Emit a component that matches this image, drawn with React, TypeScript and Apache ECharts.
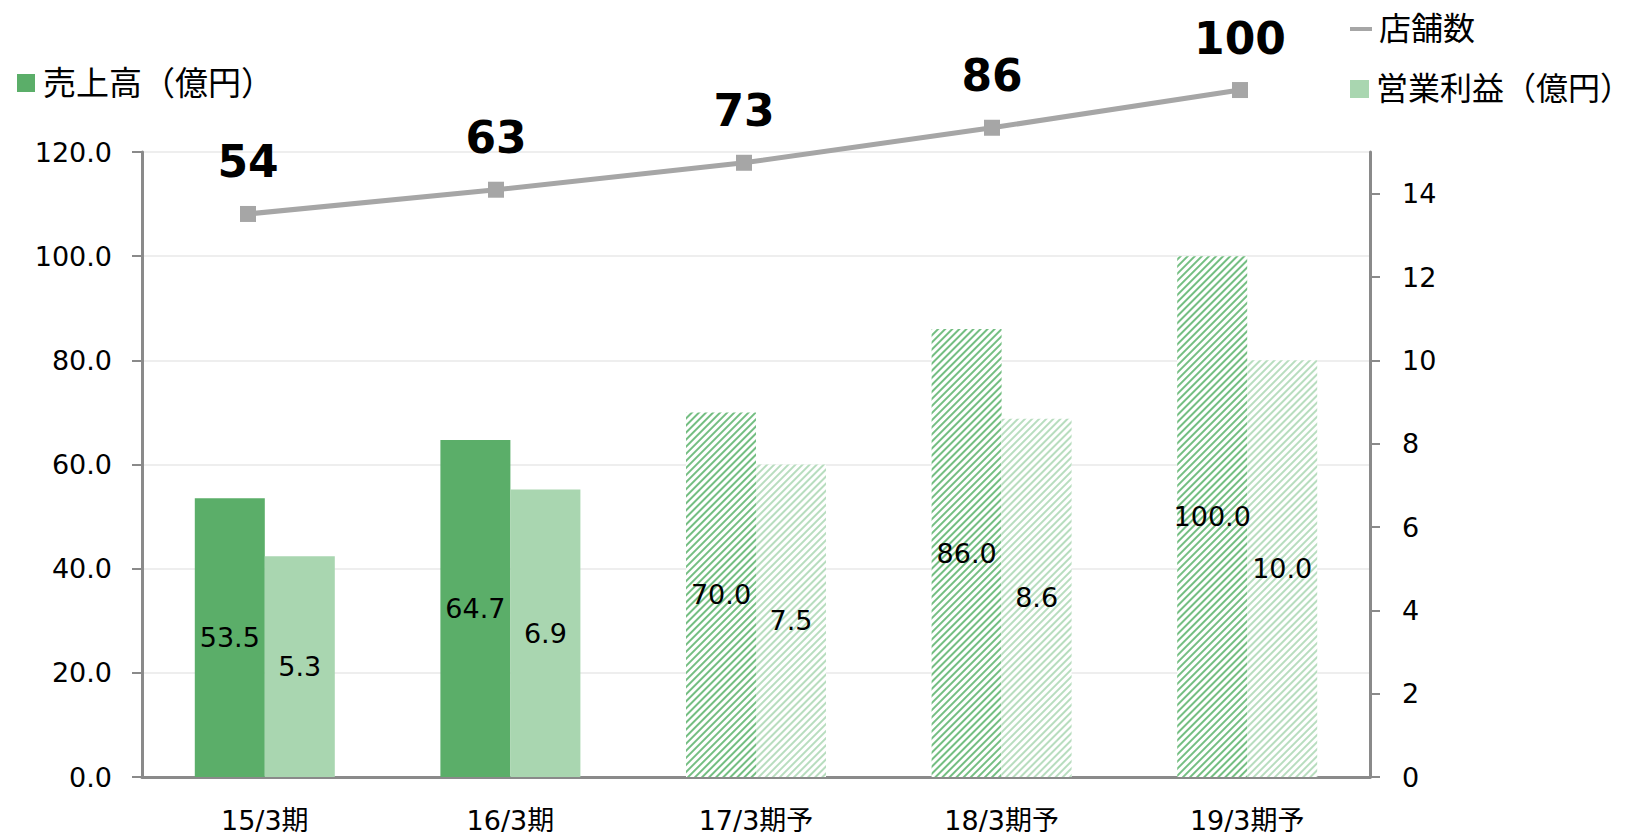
import React, { useEffect, useRef } from "react";
import * as echarts from "echarts";

const categories = ["15/3期", "16/3期", "17/3期予", "18/3期予", "19/3期予"];
const sales = [53.5, 64.7, 70.0, 86.0, 100.0];
const profit = [5.3, 6.9, 7.5, 8.6, 10.0];
const stores = [54, 63, 73, 86, 100];
const isForecast = [false, false, true, true, true];
const rightTicks = [0, 2, 4, 6, 8, 10, 12, 14];

const DARK = "#5bae69";
const LIGHT = "#a9d6b0";
const GRAY = "#a6a6a6";
const AXIS = "#8a8a8a";
const FONT = "'DejaVu Sans', 'Noto Sans CJK JP', sans-serif";

function hatch(color: string) {
  return {
    symbol: "rect",
    symbolSize: 1,
    dashArrayX: [1, 0],
    dashArrayY: [2, 3],
    rotation: -Math.PI / 4,
    color,
  };
}

export default function App() {
  const ref = useRef<HTMLDivElement>(null);
  useEffect(() => {
    if (!ref.current) return;
    const chart = echarts.init(ref.current, null, { renderer: "svg" });
    const labelStyle = { fontFamily: FONT, fontSize: 27, color: "#000" };
    const salesData = sales.map((v, i) =>
      isForecast[i]
        ? { value: v, itemStyle: { color: "#ffffff", decal: hatch("#74be82") } }
        : { value: v }
    );
    const profitData = profit.map((v, i) =>
      isForecast[i]
        ? { value: v, itemStyle: { color: "#ffffff", decal: hatch("#b8ddbf") } }
        : { value: v }
    );
    const legendText = { fontFamily: FONT, fontSize: 32, color: "#000", lineHeight: 34 };
    chart.setOption({
      animation: false,
      backgroundColor: "#fff",
      textStyle: { fontFamily: FONT },
      legend: [
        {
          data: ["売上高（億円）"],
          left: 17,
          top: 66,
          padding: 0,
          itemWidth: 18,
          itemHeight: 18,
          icon: "rect",
          textStyle: { ...legendText, fontSize: 33, padding: [0, 0, 0, 3] },
        },
        {
          data: ["店舗数"],
          left: 1350,
          top: 12,
          padding: 0,
          itemWidth: 22,
          itemHeight: 4,
          icon: "rect",
          textStyle: { ...legendText, padding: [0, 0, 0, 2] },
        },
        {
          data: ["営業利益（億円）"],
          left: 1350,
          top: 72,
          padding: 0,
          itemWidth: 19,
          itemHeight: 18,
          icon: "rect",
          textStyle: { ...legendText, padding: [0, 0, 0, 2] },
        },
      ],
      grid: [
        { left: 142, right: 266, top: 152, bottom: 61 },
        { left: 124, right: 272, top: 152, bottom: 61 },
      ],
      xAxis: [
        {
          type: "category",
          gridIndex: 0,
          data: categories,
          axisLine: { lineStyle: { color: AXIS, width: 3 } },
          axisTick: { length: 10, lineStyle: { color: AXIS, width: 2 } },
          axisLabel: { ...labelStyle, margin: 30 },
        },
        {
          type: "category",
          gridIndex: 1,
          data: categories,
          show: false,
        },
      ],
      yAxis: [
        {
          type: "value",
          gridIndex: 0,
          min: 0,
          max: 120,
          interval: 20,
          axisLine: { show: true, lineStyle: { color: AXIS, width: 3 } },
          axisTick: { show: true, length: 10, lineStyle: { color: AXIS, width: 2 } },
          axisLabel: { ...labelStyle, margin: 30, formatter: (v: number) => v.toFixed(1) },
          splitLine: { show: true, lineStyle: { color: "#eeeeee", width: 2 } },
        },
        {
          type: "value",
          gridIndex: 0,
          position: "right",
          min: 0,
          max: 15,
          interval: 1,
          axisLine: { show: true, lineStyle: { color: AXIS, width: 3 } },
          axisTick: { show: true, length: 10, customValues: rightTicks, lineStyle: { color: AXIS, width: 2 } },
          axisLabel: { ...labelStyle, margin: 32, customValues: rightTicks },
          splitLine: { show: false },
        },
        {
          type: "value",
          gridIndex: 1,
          min: -155,
          max: 77,
          show: false,
          splitLine: { show: false },
        },
      ],
      series: [
        {
          name: "売上高（億円）",
          type: "bar",
          xAxisIndex: 0,
          yAxisIndex: 0,
          barWidth: 70,
          barGap: "0%",
          itemStyle: { color: DARK },
          data: salesData,
          label: {
            show: true,
            position: "inside",
            ...labelStyle,
            formatter: (p: any) => Number(p.value).toFixed(1),
          },
        },
        {
          name: "営業利益（億円）",
          type: "bar",
          xAxisIndex: 0,
          yAxisIndex: 1,
          barWidth: 70,
          barGap: "0%",
          itemStyle: { color: LIGHT },
          data: profitData,
          label: {
            show: true,
            position: "inside",
            ...labelStyle,
            formatter: (p: any) => Number(p.value).toFixed(1),
          },
        },
        {
          name: "店舗数",
          type: "line",
          xAxisIndex: 1,
          yAxisIndex: 2,
          data: stores,
          clip: false,
          symbol: "rect",
          symbolSize: 16,
          z: 5,
          itemStyle: { color: GRAY },
          lineStyle: { color: GRAY, width: 5 },
          label: {
            show: true,
            position: "top",
            distance: 22,
            fontFamily: FONT,
            fontSize: 44,
            fontWeight: "bold",
            color: "#000",
          },
        },
      ],
    });
    return () => chart.dispose();
  }, []);
  return (
    <div
      ref={ref}
      style={{ position: "fixed", left: 0, top: 0, width: 1636, height: 838, background: "#fff" }}
    />
  );
}
